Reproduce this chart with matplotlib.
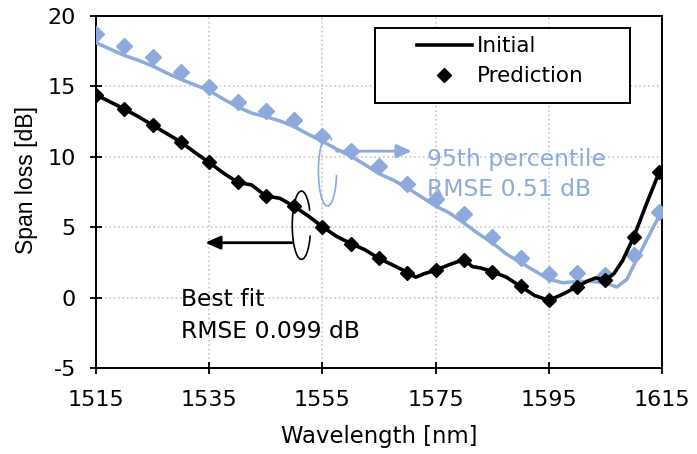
import matplotlib
matplotlib.use("Agg")
import matplotlib.pyplot as plt
from matplotlib.patches import Arc, Rectangle

plt.rcParams['font.family'] = ['DejaVu Sans']
plt.rcParams['axes.unicode_minus'] = False

# Data
marker_x = [1515, 1520, 1525, 1530, 1535, 1540, 1545, 1550, 1555, 1560, 1565,
            1570, 1575, 1580, 1585, 1590, 1595, 1600, 1605, 1610, 1614.5]
best_pred = [14.4, 13.4, 12.25, 11.05, 9.6, 8.2, 7.22, 6.48, 5.03, 3.84, 2.78,
             1.76, 1.94, 2.66, 1.8, 0.81, -0.19, 0.78, 1.23, 4.32, 8.92]
p95_pred = [18.73, 17.9, 17.07, 16.0, 14.93, 13.87, 13.27, 12.63, 11.49, 10.42, 9.35,
            8.1, 6.98, 5.96, 4.3, 2.78, 1.69, 1.76, 1.59, 3.02, 6.08]

best_x = [1515, 1517.5, 1520, 1522.5, 1525, 1527.5, 1530, 1532.5, 1535, 1537.5, 1540,
          1542.5, 1545, 1547.5, 1550, 1552.5, 1555, 1557.5, 1560, 1562.5, 1565, 1567.5,
          1570, 1571.5, 1573, 1575, 1577.5, 1580, 1581.5, 1583, 1585, 1587.5, 1590,
          1592.5, 1595, 1597.5, 1600, 1602, 1603.3, 1605, 1606.5, 1608, 1610, 1612.3, 1614.5]
best_init = [14.4, 13.9, 13.4, 12.85, 12.25, 11.65, 11.05, 10.3, 9.6, 8.85, 8.2,
             8.0, 7.22, 7.05, 6.48, 5.8, 5.03, 4.35, 3.84, 3.4, 2.78, 2.3,
             1.8, 1.45, 1.7, 1.95, 2.35, 2.7, 2.2, 2.1, 1.85, 1.45, 0.8,
             0.15, -0.2, 0.25, 0.78, 1.2, 1.4, 1.25, 1.7, 2.6, 4.3, 6.7, 8.9]

p95_x = [1515, 1517.5, 1520, 1522.5, 1525, 1527.5, 1530, 1532.5, 1535, 1537.5, 1540,
         1542.5, 1545, 1547.5, 1550, 1552.5, 1555, 1557.5, 1560, 1562.5, 1565, 1567.5,
         1570, 1572.5, 1575, 1577.5, 1580, 1582.5, 1585, 1587.5, 1590, 1592.5, 1595,
         1597.5, 1600, 1602.5, 1605, 1607, 1608.8, 1610.2, 1612.3, 1614.5]
p95_init = [18.1, 17.65, 17.2, 16.85, 16.45, 15.95, 15.5, 15.1, 14.7, 14.1, 13.55,
            13.1, 12.85, 12.55, 12.15, 11.6, 11.1, 10.55, 10.05, 9.45, 8.8, 8.35,
            7.8, 7.15, 6.5, 6.0, 5.3, 4.55, 3.9, 3.1, 2.5, 1.9, 1.3,
            1.05, 1.15, 1.15, 1.05, 0.75, 1.3, 2.45, 4.1, 5.8]

x_ticks = [1515, 1535, 1555, 1575, 1595, 1615]
y_ticks = [-5, 0, 5, 10, 15, 20]

BLUE = '#8EA9DB'
FS_TICK = 16
FS_XLAB = 16.4
FS_LEG = 15.5
FS_ANN = 16.9

W, H = 697, 454
fig = plt.figure(figsize=(W/100, H/100), dpi=100)
ax = fig.add_axes([96/W, 1-368/H, (662-96)/W, (368-16)/H])

ax.plot(p95_x, p95_init, color=BLUE, lw=2.5, zorder=3)
ax.plot(marker_x, p95_pred, ls='none', marker='D', ms=8.3, color=BLUE, zorder=4)
ax.plot(best_x, best_init, color='black', lw=2.6, zorder=5, label='Initial')
ax.plot(marker_x, best_pred, ls='none', marker='D', ms=7.5, color='black', zorder=6,
        label='Prediction')

ax.set_xlim(1515, 1615)
ax.set_ylim(-5, 20)
ax.set_xticks(x_ticks)
ax.set_yticks(y_ticks)
ax.grid(True, color='#C8C8C8', ls=':', lw=1.2)
ax.set_axisbelow(True)
for s in ['left', 'bottom', 'right', 'top']:
    ax.spines[s].set_linewidth(1.4)
ax.tick_params(axis='both', direction='inout', length=9, width=1.3, labelsize=FS_TICK)
ax.tick_params(axis='y', pad=10)
ax.tick_params(axis='x', pad=11)
ax.set_xlabel('Wavelength [nm]', fontsize=FS_XLAB, labelpad=11)
ax.set_ylabel('Span loss [dB]', fontsize=16.6, family='Liberation Sans')
ax.yaxis.set_label_coords((38-96)/566, 1-(180-16)/352)

# Legend box (Excel style, wide frame)
ax.add_patch(Rectangle((375/W, 1-103/H), (630-375)/W, (103-28)/H,
                       transform=fig.transFigure, facecolor='white',
                       edgecolor='black', lw=1.4, zorder=8, clip_on=False))
leg = ax.legend(loc='upper left', bbox_to_anchor=(417/W, 1-36.5/H),
                bbox_transform=fig.transFigure, fontsize=FS_LEG, frameon=False,
                handlelength=2.55, handletextpad=0.23, borderpad=0, labelspacing=0.46,
                borderaxespad=0)
leg.set_zorder(9)

# Annotations
ax.text(1573.5, 9.35, '95th percentile', color=BLUE, fontsize=FS_ANN, va='baseline', ha='left')
ax.text(1573.5, 7.2, 'RMSE 0.51 dB', color=BLUE, fontsize=FS_ANN, va='baseline', ha='left')
ax.text(1530.1, -0.57, 'Best fit', color='black', fontsize=FS_ANN, va='baseline', ha='left')
ax.text(1530.1, -2.87, 'RMSE 0.099 dB', color='black', fontsize=FS_ANN, va='baseline', ha='left')

ax.annotate('', xy=(1570.8, 10.4), xytext=(1557.5, 10.4),
            arrowprops=dict(arrowstyle='-|>,head_length=0.9,head_width=0.4',
                            color=BLUE, lw=2, shrinkA=0, shrinkB=0), zorder=2)
ax.annotate('', xy=(1534.3, 3.9), xytext=(1549.7, 3.9),
            arrowprops=dict(arrowstyle='-|>,head_length=0.9,head_width=0.4',
                            color='black', lw=2, shrinkA=0, shrinkB=0), zorder=2)

ax.add_patch(Arc((1555.9, 9.0), 3.2, 5.0, theta1=70, theta2=350, color=BLUE, lw=1.2, zorder=7))
ax.add_patch(Arc((1551.3, 5.14), 3.25, 4.85, theta1=35, theta2=335, color='black', lw=1.2,
                 zorder=7))

fig.savefig('out.png', dpi=100)
